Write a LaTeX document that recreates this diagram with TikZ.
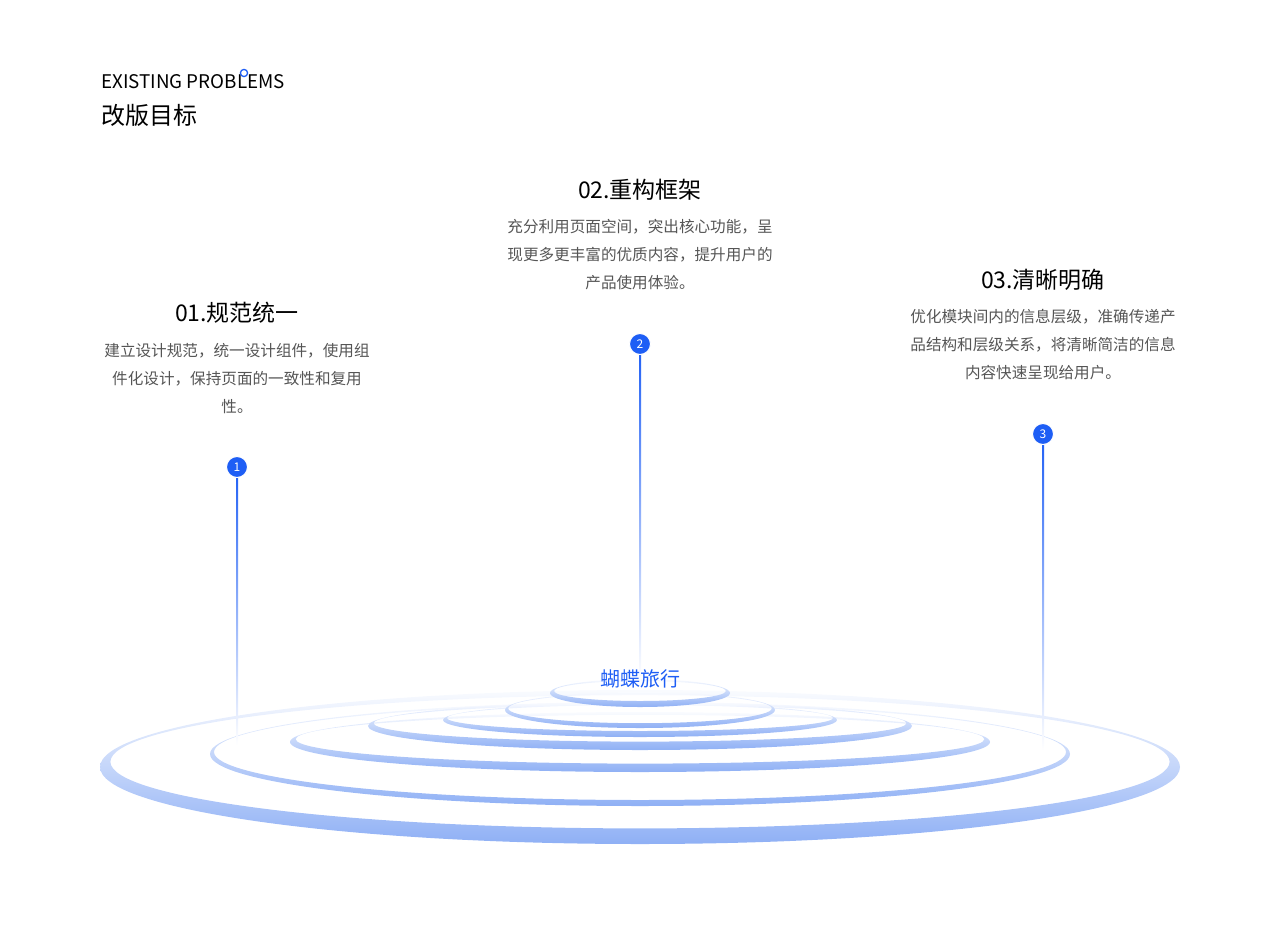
\documentclass[tikz,border=0pt]{standalone}
\usepackage{fontspec}
\setmainfont{Noto Sans CJK SC}
\usepackage{xcolor}
\usetikzlibrary{calc}
\definecolor{mainblue}{HTML}{1E5EF5}
\definecolor{ringblue}{HTML}{8FB0F5}
\definecolor{bodygray}{HTML}{555555}
\tikzset{
  title/.style={font=\fontsize{23}{26}\selectfont, text=black},
  body/.style={font=\fontsize{15.6}{28}\selectfont, text=bodygray, align=center},
  marker/.style={circle, fill=mainblue, draw=white, line width=1pt, minimum size=21pt, inner sep=0pt, text=white, font=\fontsize{12}{12}\selectfont},
}
\begin{document}
\begin{tikzpicture}[x=1pt,y=-1pt]
    \useasboundingbox (0,0) rectangle (1280,924);
    %HEADER
    \node[anchor=base west, font=\fontsize{18.8}{20}\selectfont, inner sep=0] (en) at (101,88) {EXISTING PROBLEMS};
    \draw[mainblue, line width=1.3pt] (244,73) circle (3.6);
    \node[anchor=base west, font=\fontsize{24}{28}\selectfont, inner sep=0] (cn) at (101,124) {改版目标};
    %RINGS
    \foreach \ry/\cy/\rx/\ryy/\w in {1/767/540/77/13, 2/754/430/52/5, 3/742/350/30/7, 4/726/272/24/7, 5/720/197/17/5, 6/710/135/18/4, 7/693/90/14/5}{
        \shade[top color=ringblue!5, bottom color=ringblue, even odd rule]
            (640,\cy) ellipse [x radius=\rx, y radius=\ryy]
            ($(640,\cy)-(0,\w*0.4)$) ellipse [x radius=\rx-\w*0.8, y radius=\ryy-\w*0.8];
    }
    %STEMS
    \shade[top color=mainblue, bottom color=white] (236,467) rectangle (238,745);
    \shade[top color=mainblue, bottom color=white] (639,344) rectangle (641,680);
    \shade[top color=mainblue, bottom color=white] (1042,434) rectangle (1044,750);
    \node[marker] (m1) at (237,467) {1};
    \node[marker] (m2) at (640,344) {2};
    \node[marker] (m3) at (1043,434) {3};
    %LABEL
    \node[font=\fontsize{20}{24}\selectfont, text=mainblue] (brand) at (640,679) {蝴蝶旅行};
    %TEXT 01
    \node[title] (t1) at (237,313) {01.规范统一};
    \node[body, anchor=north] (b1) at (237,340) {建立设计规范，统一设计组件，使用组\\件化设计，保持页面的一致性和复用\\性。};
    %TEXT 02
    \node[title] (t2) at (640,190) {02.重构框架};
    \node[body, anchor=north] (b2) at (640,216) {充分利用页面空间，突出核心功能，呈\\现更多更丰富的优质内容，提升用户的\\产品使用体验。};
    %TEXT 03
    \node[title] (t3) at (1043,280) {03.清晰明确};
    \node[body, anchor=north] (b3) at (1043,306) {优化模块间内的信息层级，准确传递产\\品结构和层级关系，将清晰简洁的信息\\内容快速呈现给用户。};
\end{tikzpicture}
\end{document}
